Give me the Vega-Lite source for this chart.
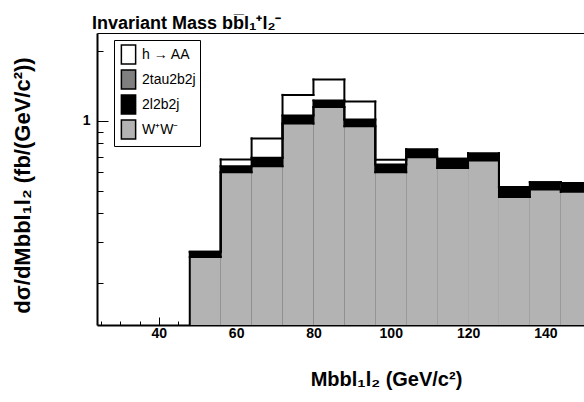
{
  "$schema": "https://vega.github.io/schema/vega-lite/v6.json",
  "width": 487,
  "height": 292,
  "autosize": {"type": "none"},
  "padding": {"left": 97, "top": 33, "right": 0, "bottom": 77},
  "background": "white",
  "title": {"text": "Invariant Mass bb̅l₁⁺l₂⁻", "anchor": "start", "frame": "group", "font": "Liberation Sans", "fontSize": 18, "fontWeight": "bold", "color": "black", "baseline": "alphabetic", "offset": -14, "dx": -5},
  "config": {"view": {"stroke": null}, "font": "Liberation Sans"},
  "data": {"values": [
    {"lo": 48, "hi": 56, "total": 0.2725, "tau": 0.2725, "ll": 0.2725, "ww": 0.2585},
    {"lo": 56, "hi": 64, "total": 0.682, "tau": 0.638, "ll": 0.638, "ww": 0.601},
    {"lo": 64, "hi": 72, "total": 0.840, "tau": 0.693, "ll": 0.693, "ww": 0.638},
    {"lo": 72, "hi": 80, "total": 1.295, "tau": 1.055, "ll": 1.055, "ww": 0.974},
    {"lo": 80, "hi": 88, "total": 1.508, "tau": 1.224, "ll": 1.224, "ww": 1.149},
    {"lo": 88, "hi": 96, "total": 1.212, "tau": 1.014, "ll": 1.014, "ww": 0.949},
    {"lo": 96, "hi": 104, "total": 0.679, "tau": 0.649, "ll": 0.649, "ww": 0.601},
    {"lo": 104, "hi": 112, "total": 0.753, "tau": 0.753, "ll": 0.753, "ww": 0.697},
    {"lo": 112, "hi": 120, "total": 0.686, "tau": 0.686, "ll": 0.686, "ww": 0.627},
    {"lo": 120, "hi": 128, "total": 0.724, "tau": 0.724, "ll": 0.724, "ww": 0.675},
    {"lo": 128, "hi": 136, "total": 0.518, "tau": 0.518, "ll": 0.518, "ww": 0.470},
    {"lo": 136, "hi": 144, "total": 0.544, "tau": 0.544, "ll": 0.544, "ww": 0.506},
    {"lo": 144, "hi": 152, "total": 0.539, "tau": 0.539, "ll": 0.539, "ww": 0.494}
  ]},
  "resolve": {"axis": {"x": "independent"}},
  "layer": [
    {
      "mark": {"type": "bar", "clip": true},
      "encoding": {
        "x": {"field": "lo", "type": "quantitative",
              "scale": {"domain": [24, 150], "nice": false, "zero": false},
              "axis": {"orient": "bottom", "values": [25,30,35,40,45,50,55,60,65,70,75,80,85,90,95,100,105,110,115,120,125,130,135,140,145,150],
                       "labelExpr": "datum.value % 20 == 0 ? datum.label : ''",
                       "tickSize": {"condition": {"test": "datum.value % 20 == 0", "value": -8}, "value": -4},
                       "tickColor": "black", "tickWidth": 1, "domainColor": "black", "domainWidth": 2,
                       "labelFont": "Liberation Sans", "labelFontSize": 14, "labelFontWeight": "bold", "labelColor": "black",
                       "labelPadding": 9, "labelFlush": false, "labelOverlap": false, "grid": false,
                       "title": "Mbbl₁l₂ (GeV/c²)", "titleFont": "Liberation Sans", "titleFontSize": 20, "titleFontWeight": "bold", "titleColor": "black",
                       "titleX": 289, "titleY": 60, "titleBaseline": "alphabetic", "titleAlign": "center"}},
        "x2": {"field": "hi"},
        "y": {"field": "total", "type": "quantitative", "stack": null,
              "scale": {"type": "log", "domain": [0.1316, 2.395], "clamp": true, "nice": false},
              "axis": {"orient": "left", "values": [0.2,0.3,0.4,0.5,0.6,0.7,0.8,0.9,1,2],
                       "labelExpr": "datum.value == 1 ? '1' : ''",
                       "tickSize": {"condition": {"test": "datum.value == 1", "value": -11}, "value": -6},
                       "tickColor": "black", "tickWidth": 1, "domainColor": "black", "domainWidth": 2,
                       "labelFont": "Liberation Sans", "labelFontSize": 14, "labelFontWeight": "bold", "labelColor": "black",
                       "labelPadding": 18, "labelOverlap": false, "labelFlush": false, "grid": false,
                       "title": "dσ/dMbbl₁l₂ (fb/(GeV/c²))", "titleFont": "Liberation Sans", "titleFontSize": 22, "titleFontWeight": "bold", "titleColor": "black",
                       "titleX": -68, "titleY": 152, "titleAngle": 270, "titleBaseline": "alphabetic", "titleAlign": "center"}},
        "y2": {"datum": 0.13},
        "color": {"datum": "h → AA",
                  "scale": {"domain": ["h → AA", "2tau2b2j", "2l2b2j", "W⁺W⁻"], "range": ["#ffffff", "#7f7f7f", "#000000", "#b3b3b3"]},
                  "legend": {"title": null, "orient": "none", "legendX": 17, "legendY": 7, "fillColor": "white", "strokeColor": "black",
                             "padding": 4, "symbolType": "M-0.75,-1L0.75,-1L0.75,1L-0.75,1Z", "symbolSize": 361,
                             "symbolStrokeColor": "black", "symbolStrokeWidth": 1.5, "symbolOpacity": 1,
                             "labelFont": "Liberation Sans", "labelFontSize": 14, "labelColor": "black", "labelOffset": 3, "rowPadding": 0}}
      }
    },
    {
      "mark": {"type": "bar", "clip": true},
      "encoding": {
        "x": {"field": "lo", "type": "quantitative", "axis": {"orient": "top", "labels": false, "ticks": false, "domainColor": "black", "domainWidth": 1, "title": null, "grid": false}},
        "x2": {"field": "hi"},
        "y": {"field": "tau", "type": "quantitative", "stack": null},
        "y2": {"datum": 0.13},
        "color": {"datum": "2tau2b2j"}
      }
    },
    {
      "mark": {"type": "bar", "clip": true},
      "encoding": {
        "x": {"field": "lo", "type": "quantitative", "axis": null},
        "x2": {"field": "hi"},
        "y": {"field": "ll", "type": "quantitative", "stack": null},
        "y2": {"datum": 0.13},
        "color": {"datum": "2l2b2j"}
      }
    },
    {
      "mark": {"type": "bar", "clip": true},
      "encoding": {
        "x": {"field": "lo", "type": "quantitative", "axis": null},
        "x2": {"field": "hi"},
        "y": {"field": "ww", "type": "quantitative", "stack": null},
        "y2": {"datum": 0.13},
        "color": {"datum": "W⁺W⁻"}
      }
    },
    {
      "transform": [{"fold": ["total", "ll", "ww"], "as": ["k", "v"]}],
      "mark": {"type": "rule", "clip": true, "strokeWidth": 2, "color": "black", "strokeCap": "square"},
      "encoding": {
        "x": {"field": "lo", "type": "quantitative", "axis": null},
        "x2": {"field": "hi"},
        "y": {"field": "v", "type": "quantitative"}
      }
    },
    {
      "transform": [
        {"fold": ["total", "ll", "ww"], "as": ["k", "v"]},
        {"window": [{"op": "lag", "field": "v", "param": 1, "as": "pv"}], "groupby": ["k"], "sort": [{"field": "lo", "order": "ascending"}]},
        {"filter": "datum.pv != null"}
      ],
      "mark": {"type": "rule", "clip": true, "strokeWidth": 2, "color": "black", "strokeCap": "square"},
      "encoding": {
        "x": {"field": "lo", "type": "quantitative", "axis": null},
        "y": {"field": "v", "type": "quantitative"},
        "y2": {"field": "pv"}
      }
    },
    {
      "transform": [{"filter": "datum.lo == 48"}],
      "mark": {"type": "rule", "clip": true, "strokeWidth": 2, "color": "black"},
      "encoding": {
        "x": {"field": "lo", "type": "quantitative", "axis": null},
        "y": {"field": "total", "type": "quantitative"},
        "y2": {"datum": 0.13}
      }
    }
  ]
}
